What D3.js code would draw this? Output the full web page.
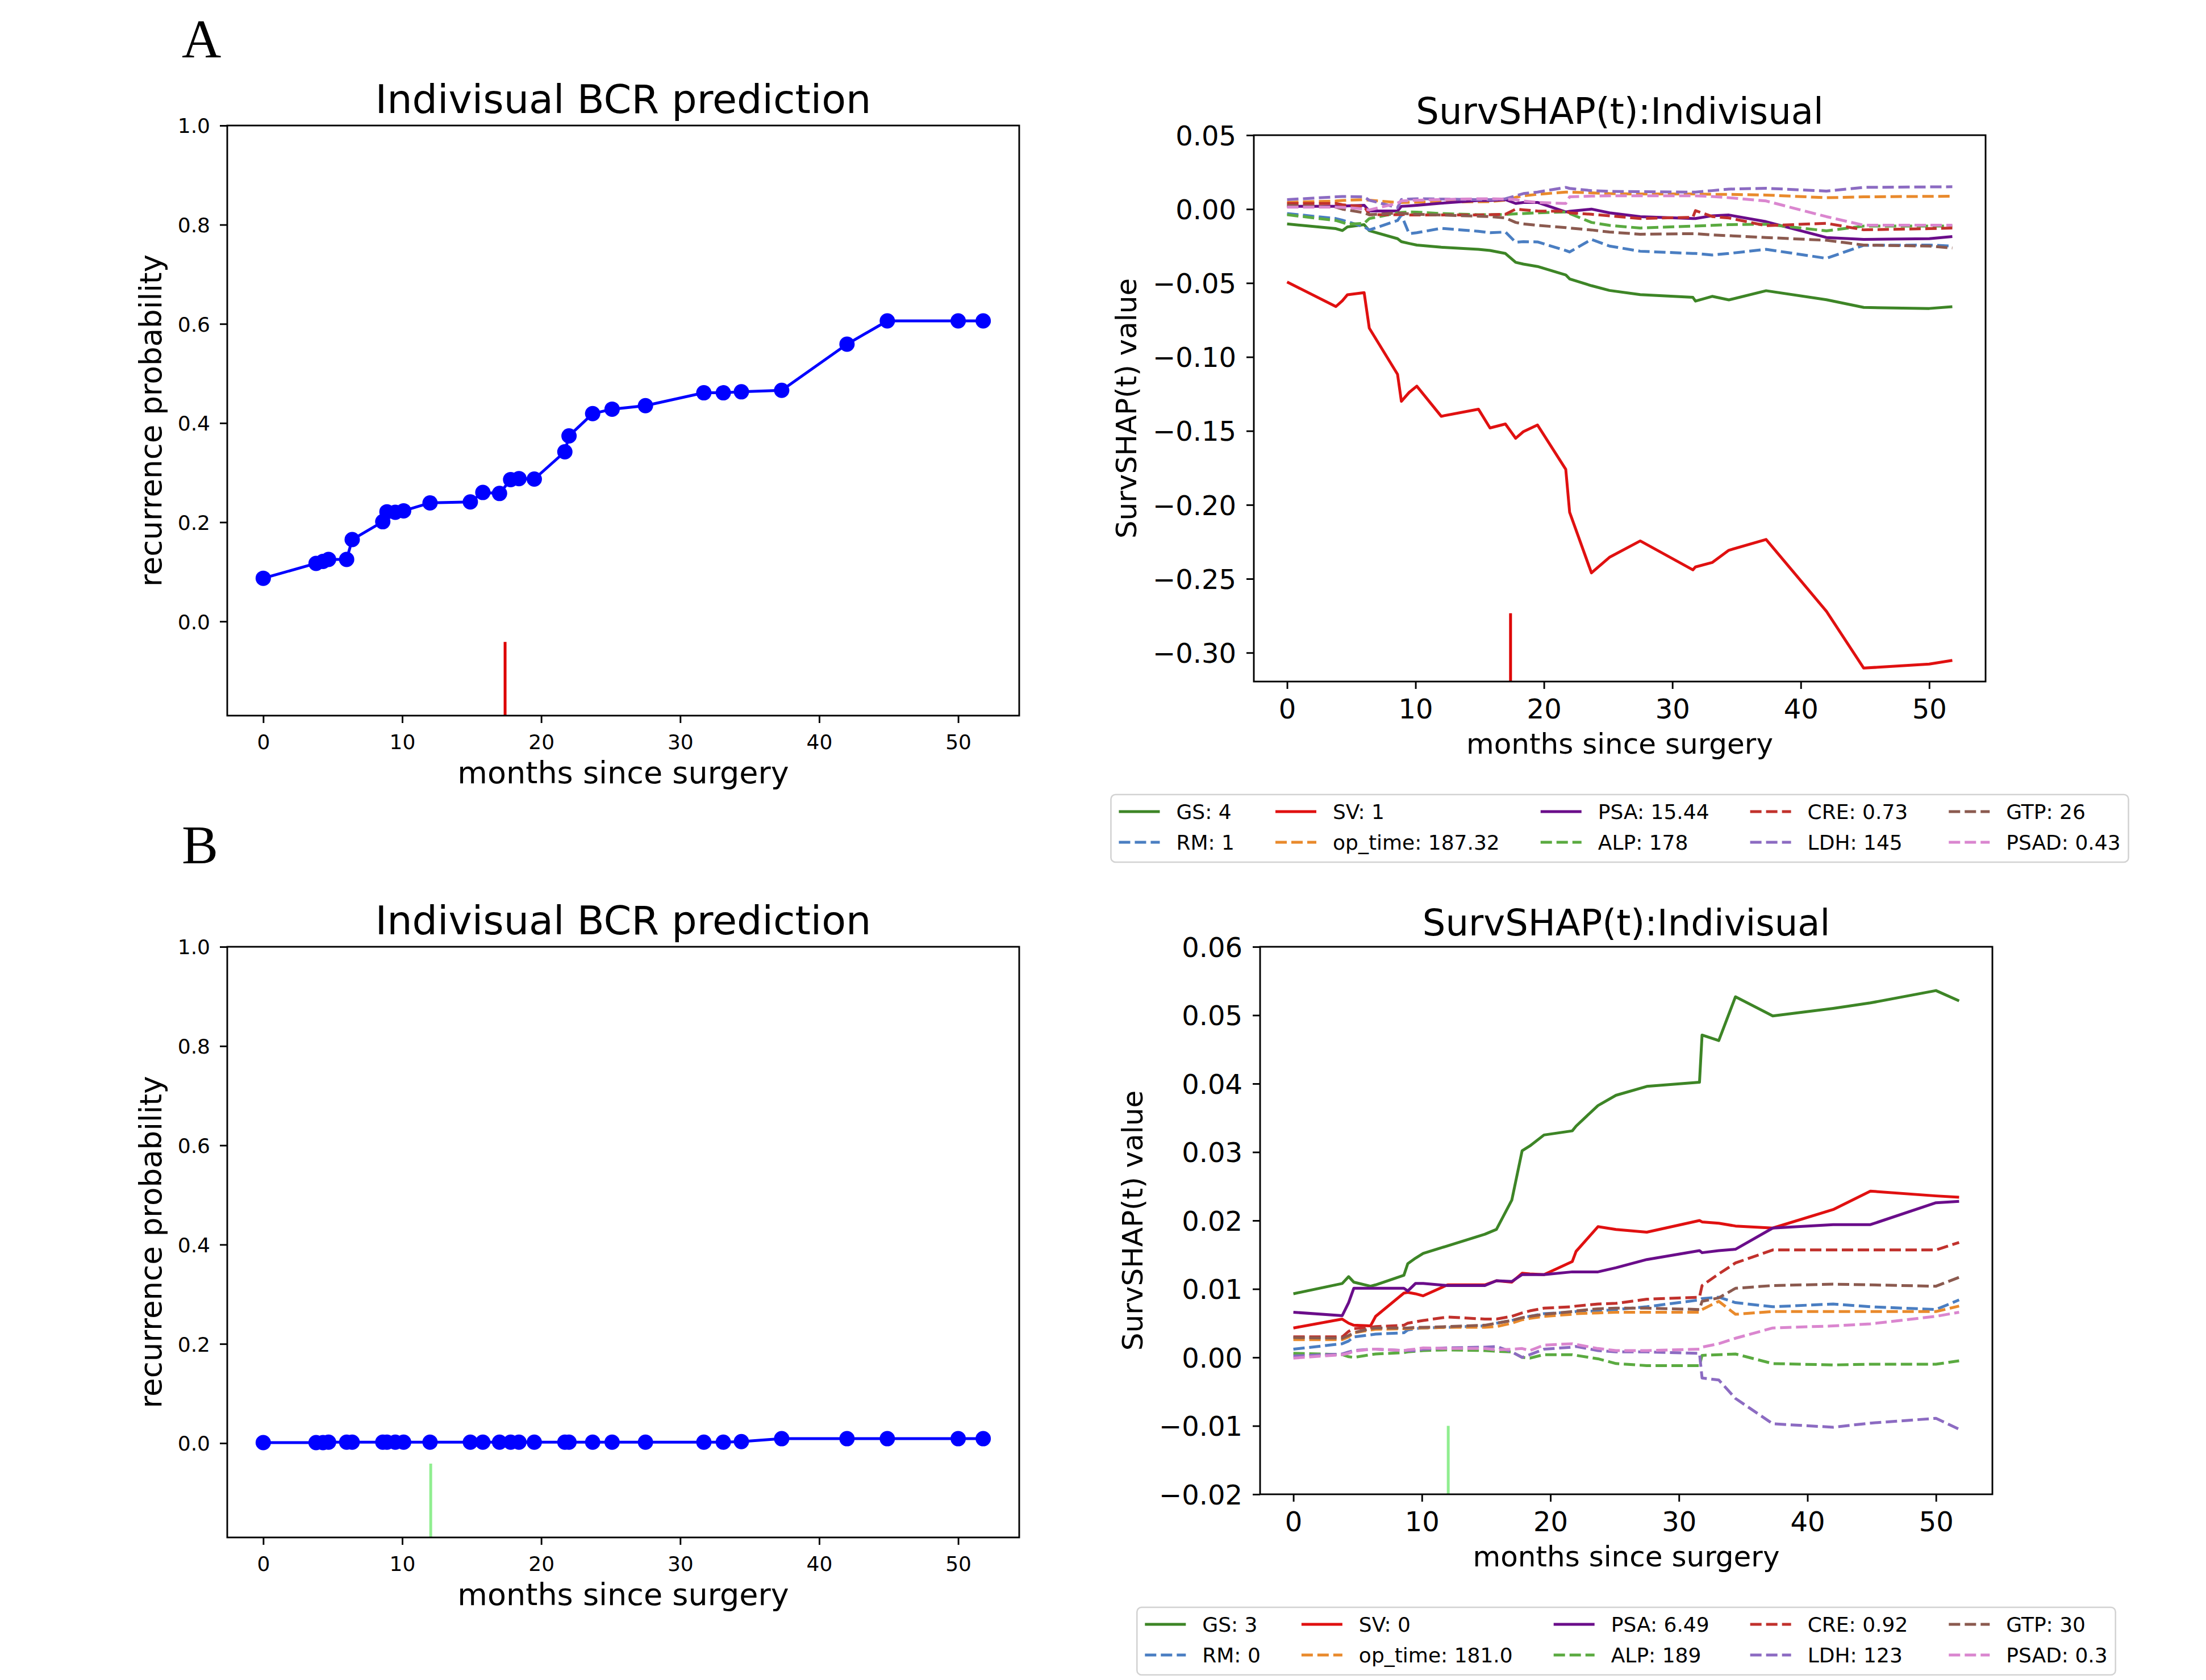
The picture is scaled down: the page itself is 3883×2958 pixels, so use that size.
<!DOCTYPE html>
<html>
<head>
<meta charset="utf-8">
<script src="https://cdn.jsdelivr.net/npm/d3@7"></script>
<style>
	body { margin: 0; background: #fff; }
</style>
</head>
<body>
<script>
// ---- data ----
var survTimes = [0, 3.8, 4.3, 4.7, 6.0, 6.4, 8.6, 8.9, 9.5, 10.1, 12.0, 14.9, 15.8, 17.0, 17.8, 18.4, 19.5, 21.7, 22.0, 23.7, 25.1, 27.5, 31.7, 33.1, 34.4, 37.3, 42.0, 44.9, 50.0, 51.8];
var bcrProbA = [0.087, 0.117, 0.121, 0.125, 0.125, 0.165, 0.201, 0.221, 0.220, 0.223, 0.239, 0.241, 0.260, 0.258, 0.286, 0.288, 0.287, 0.342, 0.374, 0.419, 0.428, 0.435, 0.461, 0.461, 0.463, 0.466, 0.559, 0.606, 0.606, 0.606];
var bcrProbB = [0.001, 0.001, 0.001, 0.002, 0.002, 0.002, 0.002, 0.002, 0.002, 0.002, 0.002, 0.002, 0.002, 0.002, 0.002, 0.002, 0.002, 0.002, 0.002, 0.002, 0.002, 0.002, 0.002, 0.002, 0.003, 0.009, 0.009, 0.009, 0.009, 0.009];
var markTimeA = 17.4;
var markTimeB = 12.05;

var shapTimes = [0, 3.8, 4.3, 4.7, 6.0, 6.4, 8.6, 8.9, 9.5, 10.1, 12.0, 14.9, 15.8, 17.0, 17.8, 18.4, 19.5, 21.7, 22.0, 23.7, 25.1, 27.5, 31.6, 31.8, 33.1, 34.4, 37.3, 42.0, 44.9, 50.0, 51.8];

// legend order (column major, 5 columns)
var featureNames = ["GS", "RM", "SV", "op_time", "PSA", "ALP", "CRE", "LDH", "GTP", "PSAD"];
var featureValuesA = ["4", "1", "1", "187.32", "15.44", "178", "0.73", "145", "26", "0.43"];
var featureValuesB = ["3", "0", "0", "181.0", "6.49", "189", "0.92", "123", "30", "0.3"];

var gsA = [-0.0100, -0.0132, -0.0145, -0.0120, -0.0105, -0.0146, -0.0200, -0.0220, -0.0232, -0.0243, -0.0258, -0.0272, -0.0280, -0.0300, -0.0360, -0.0372, -0.0388, -0.0445, -0.0472, -0.0518, -0.0550, -0.0578, -0.0597, -0.0622, -0.0590, -0.0614, -0.0552, -0.0613, -0.0665, -0.0672, -0.0660];
var rmA = [-0.0030, -0.0064, -0.0075, -0.0085, -0.0120, -0.0141, -0.0077, -0.0040, -0.0166, -0.0160, -0.0130, -0.0150, -0.0160, -0.0155, -0.0224, -0.0220, -0.0222, -0.0280, -0.0290, -0.0205, -0.0250, -0.0285, -0.0300, -0.0300, -0.0310, -0.0300, -0.0272, -0.0333, -0.0245, -0.0243, -0.0250];
var svA = [-0.0493, -0.0659, -0.0620, -0.0579, -0.0565, -0.0805, -0.1117, -0.1300, -0.1240, -0.1197, -0.1401, -0.1353, -0.1480, -0.1453, -0.1550, -0.1505, -0.1460, -0.1760, -0.2050, -0.2460, -0.2355, -0.2244, -0.2440, -0.2420, -0.2390, -0.2307, -0.2234, -0.2720, -0.3104, -0.3077, -0.3052];
var opA = [0.0045, 0.0055, 0.0058, 0.0060, 0.0064, 0.0060, 0.0045, 0.0045, 0.0046, 0.0047, 0.0048, 0.0050, 0.0051, 0.0060, 0.0080, 0.0090, 0.0100, 0.0115, 0.0115, 0.0110, 0.0105, 0.0102, 0.0102, 0.0102, 0.0100, 0.0100, 0.0095, 0.0077, 0.0083, 0.0086, 0.0087];
var psaA = [0.0019, 0.0019, 0.0020, 0.0022, 0.0026, -0.0013, -0.0013, 0.0019, 0.0022, 0.0026, 0.0040, 0.0058, 0.0058, 0.0064, 0.0038, 0.0045, 0.0045, -0.0019, -0.0015, 0.0000, -0.0025, -0.0051, -0.0064, -0.0064, -0.0045, -0.0040, -0.0085, -0.0192, -0.0205, -0.0200, -0.0186];
var alpA = [-0.0038, -0.0077, -0.0090, -0.0102, -0.0096, -0.0064, -0.0026, -0.0022, -0.0019, -0.0020, -0.0030, -0.0038, -0.0038, -0.0036, -0.0032, -0.0030, -0.0025, -0.0019, -0.0030, -0.0090, -0.0110, -0.0128, -0.0115, -0.0115, -0.0110, -0.0105, -0.0102, -0.0147, -0.0115, -0.0115, -0.0115];
var creA = [0.0038, 0.0038, 0.0030, 0.0025, 0.0020, -0.0038, -0.0038, -0.0035, -0.0040, -0.0040, -0.0040, -0.0040, -0.0038, -0.0035, 0.0000, -0.0005, -0.0013, -0.0015, -0.0025, -0.0035, -0.0045, -0.0064, -0.0055, -0.0010, -0.0050, -0.0060, -0.0112, -0.0096, -0.0140, -0.0132, -0.0128];
var ldhA = [0.0064, 0.0083, 0.0085, 0.0085, 0.0083, 0.0060, 0.0010, 0.0065, 0.0068, 0.0070, 0.0068, 0.0064, 0.0064, 0.0070, 0.0090, 0.0105, 0.0115, 0.0147, 0.0140, 0.0125, 0.0120, 0.0118, 0.0115, 0.0115, 0.0125, 0.0135, 0.0141, 0.0122, 0.0147, 0.0150, 0.0151];
var gtpA = [0.0026, 0.0013, 0.0000, -0.0006, -0.0025, -0.0038, -0.0026, -0.0028, -0.0032, -0.0035, -0.0040, -0.0048, -0.0051, -0.0060, -0.0090, -0.0100, -0.0110, -0.0125, -0.0128, -0.0141, -0.0155, -0.0170, -0.0166, -0.0166, -0.0175, -0.0180, -0.0192, -0.0211, -0.0243, -0.0250, -0.0263];
var psadA = [0.0013, 0.0013, 0.0012, 0.0010, 0.0000, -0.0006, 0.0040, 0.0055, 0.0058, 0.0060, 0.0065, 0.0070, 0.0070, 0.0068, 0.0064, 0.0055, 0.0045, 0.0038, 0.0083, 0.0088, 0.0090, 0.0090, 0.0090, 0.0090, 0.0085, 0.0077, 0.0055, -0.0051, -0.0109, -0.0109, -0.0109];

var gsB = [0.0093, 0.0108, 0.0118, 0.0110, 0.0104, 0.0106, 0.0120, 0.0137, 0.0145, 0.0152, 0.0163, 0.0180, 0.0187, 0.0230, 0.0302, 0.0309, 0.0325, 0.0331, 0.0338, 0.0368, 0.0383, 0.0396, 0.0402, 0.0471, 0.0463, 0.0527, 0.0499, 0.0510, 0.0518, 0.0536, 0.0521];
var rmB = [0.0012, 0.0020, 0.0024, 0.0030, 0.0033, 0.0034, 0.0036, 0.0040, 0.0042, 0.0043, 0.0044, 0.0046, 0.0050, 0.0054, 0.0058, 0.0060, 0.0064, 0.0066, 0.0067, 0.0068, 0.0070, 0.0074, 0.0084, 0.0086, 0.0088, 0.0080, 0.0074, 0.0078, 0.0074, 0.0070, 0.0084];
var svB = [0.0043, 0.0056, 0.0050, 0.0047, 0.0046, 0.0060, 0.0094, 0.0095, 0.0093, 0.0090, 0.0106, 0.0106, 0.0112, 0.0110, 0.0123, 0.0122, 0.0121, 0.0140, 0.0155, 0.0191, 0.0187, 0.0183, 0.0200, 0.0198, 0.0196, 0.0192, 0.0189, 0.0216, 0.0243, 0.0236, 0.0234];
var opB = [0.0026, 0.0026, 0.0030, 0.0036, 0.0040, 0.0041, 0.0042, 0.0042, 0.0043, 0.0043, 0.0044, 0.0044, 0.0045, 0.0050, 0.0055, 0.0057, 0.0060, 0.0063, 0.0064, 0.0065, 0.0066, 0.0066, 0.0066, 0.0070, 0.0082, 0.0063, 0.0067, 0.0067, 0.0067, 0.0067, 0.0075];
var psaB = [0.0066, 0.0061, 0.0080, 0.0101, 0.0101, 0.0101, 0.0101, 0.0097, 0.0108, 0.0108, 0.0105, 0.0105, 0.0112, 0.0111, 0.0121, 0.0121, 0.0121, 0.0125, 0.0125, 0.0125, 0.0131, 0.0143, 0.0156, 0.0153, 0.0156, 0.0158, 0.0189, 0.0194, 0.0194, 0.0226, 0.0228];
var alpB = [0.0006, 0.0004, 0.0001, 0.0000, 0.0004, 0.0005, 0.0007, 0.0008, 0.0009, 0.0010, 0.0011, 0.0010, 0.0009, 0.0008, 0.0000, -0.0001, 0.0004, 0.0004, 0.0003, -0.0002, -0.0009, -0.0012, -0.0012, 0.0003, 0.0004, 0.0005, -0.0009, -0.0011, -0.0010, -0.0010, -0.0005];
var creB = [0.0030, 0.0030, 0.0038, 0.0042, 0.0044, 0.0045, 0.0047, 0.0050, 0.0052, 0.0054, 0.0059, 0.0056, 0.0056, 0.0060, 0.0065, 0.0068, 0.0072, 0.0074, 0.0075, 0.0078, 0.0079, 0.0085, 0.0088, 0.0105, 0.0122, 0.0138, 0.0157, 0.0157, 0.0157, 0.0157, 0.0168];
var ldhB = [0.0002, 0.0005, 0.0008, 0.0010, 0.0012, 0.0012, 0.0010, 0.0010, 0.0010, 0.0012, 0.0014, 0.0015, 0.0016, 0.0008, 0.0000, 0.0004, 0.0012, 0.0015, 0.0016, 0.0010, 0.0008, 0.0008, 0.0006, -0.0030, -0.0033, -0.0060, -0.0097, -0.0102, -0.0096, -0.0089, -0.0105];
var gtpB = [0.0029, 0.0028, 0.0032, 0.0036, 0.0042, 0.0043, 0.0043, 0.0043, 0.0044, 0.0044, 0.0045, 0.0047, 0.0050, 0.0054, 0.0058, 0.0060, 0.0063, 0.0067, 0.0068, 0.0071, 0.0072, 0.0072, 0.0070, 0.0082, 0.0087, 0.0101, 0.0105, 0.0107, 0.0106, 0.0104, 0.0117];
var psadB = [-0.0001, 0.0004, 0.0006, 0.0009, 0.0012, 0.0012, 0.0010, 0.0011, 0.0012, 0.0014, 0.0013, 0.0013, 0.0011, 0.0012, 0.0013, 0.0010, 0.0018, 0.0020, 0.0019, 0.0013, 0.0010, 0.0010, 0.0012, 0.0015, 0.0020, 0.0028, 0.0043, 0.0046, 0.0049, 0.0060, 0.0066];

var monthTicks = [0, 10, 20, 30, 40, 50];
var probTicks = [0.0, 0.2, 0.4, 0.6, 0.8, 1.0];
var shapTicksA = [0.05, 0.00, -0.05, -0.10, -0.15, -0.20, -0.25, -0.30];
var shapTicksB = [0.06, 0.05, 0.04, 0.03, 0.02, 0.01, 0.00, -0.01, -0.02];

// ---- styling ----
var FONT = "DejaVu Sans";
var SPINE_W = 2.9;
var TICK_LEN = 13;
var X_DOMAIN = [-2.59, 54.39];
var MARK_FRAC = 0.125;

var featureStyle = {
	"GS":      { color: "#3d8526", dash: null },
	"SV":      { color: "#e01010", dash: null },
	"PSA":     { color: "#6a0d8a", dash: null },
	"CRE":     { color: "#c1312c", dash: "20,8" },
	"GTP":     { color: "#8b5a4f", dash: "20,8" },
	"RM":      { color: "#4a7ec2", dash: "20,8" },
	"op_time": { color: "#e98a2c", dash: "20,8" },
	"ALP":     { color: "#5aaa40", dash: "20,8" },
	"LDH":     { color: "#8c6bc2", dash: "20,8" },
	"PSAD":    { color: "#da86cf", dash: "20,8" }
};

var svg = d3.select("body").append("svg")
	.attr("width", 3883)
	.attr("height", 2958)
	.style("background", "#fff");

function styleAxis(g, fontSize, dy) {
	g.select(".domain").remove();
	g.selectAll(".tick line").attr("stroke", "#000").attr("stroke-width", SPINE_W);
	g.selectAll(".tick text")
		.attr("font-family", FONT)
		.attr("font-size", fontSize)
		.attr("fill", "#000");
	if (dy) g.selectAll(".tick text").attr("dy", dy);
}

function fmtShap(d) {
	var s = Math.abs(d).toFixed(2);
	return (d < -1e-9 ? "\u2212" : "") + s;
}

function drawFrame(box) {
	svg.append("rect")
		.attr("x", box.left).attr("y", box.top)
		.attr("width", box.w).attr("height", box.h)
		.attr("fill", "none")
		.attr("stroke", "#000")
		.attr("stroke-width", SPINE_W);
}

function drawMark(x, box, t, color) {
	svg.append("line")
		.attr("x1", x(t)).attr("x2", x(t))
		.attr("y1", box.top + box.h)
		.attr("y2", box.top + box.h * (1 - MARK_FRAC))
		.attr("stroke", color)
		.attr("stroke-width", 5);
}

function drawProbPanel(box, probs, markT, markColor) {
	var x = d3.scaleLinear().domain(X_DOMAIN).range([box.left, box.left + box.w]);
	var y = d3.scaleLinear().domain([-0.19, 1.0]).range([box.top + box.h, box.top]);

	var xa = svg.append("g")
		.attr("transform", "translate(0," + (box.top + box.h) + ")")
		.call(d3.axisBottom(x).tickValues(monthTicks).tickSize(TICK_LEN).tickPadding(20).tickFormat(d3.format("d")));
	styleAxis(xa, 36);

	var ya = svg.append("g")
		.attr("transform", "translate(" + box.left + ",0)")
		.call(d3.axisLeft(y).tickValues(probTicks).tickSize(TICK_LEN).tickPadding(17).tickFormat(d3.format(".1f")));
	styleAxis(ya, 36, "0.36em");

	var pts = survTimes.map(function (t, i) { return [t, probs[i]]; });

	svg.append("path")
		.datum(pts)
		.attr("fill", "none")
		.attr("stroke", "#0000ff")
		.attr("stroke-width", 5)
		.attr("d", d3.line().x(function (d) { return x(d[0]); }).y(function (d) { return y(d[1]); }));

	svg.append("g").selectAll("circle")
		.data(pts)
		.enter().append("circle")
		.attr("cx", function (d) { return x(d[0]); })
		.attr("cy", function (d) { return y(d[1]); })
		.attr("r", 13.5)
		.attr("fill", "#0000ff");

	drawMark(x, box, markT, markColor);
	drawFrame(box);

	svg.append("text")
		.attr("x", box.left + box.w / 2).attr("y", box.top - 22)
		.attr("text-anchor", "middle")
		.attr("font-family", FONT).attr("font-size", 70)
		.text("Indivisual BCR prediction");

	svg.append("text")
		.attr("x", box.left + box.w / 2).attr("y", box.top + box.h + 119)
		.attr("text-anchor", "middle")
		.attr("font-family", FONT).attr("font-size", 54)
		.text("months since surgery");

	svg.append("text")
		.attr("transform", "translate(" + (box.left - 116) + "," + (box.top + box.h / 2) + ") rotate(-90)")
		.attr("text-anchor", "middle")
		.attr("font-family", FONT).attr("font-size", 53)
		.text("recurrence probability");
}

function drawLegend(cx, top, values) {
	var fs = 36, handle = 72, handlePad = 29, colSpace = 72, border = 14;
	var g = svg.append("g");
	var labels = featureNames.map(function (n, i) { return n + ": " + values[i]; });

	var widths = labels.map(function (l) {
		var t = g.append("text").attr("font-family", FONT).attr("font-size", fs).text(l);
		var w = t.node().getComputedTextLength();
		t.remove();
		return w;
	});

	var ncol = 5, colStart = [], total = border;
	for (var c = 0; c < ncol; c++) {
		colStart.push(total);
		var cw = Math.max(widths[2 * c], widths[2 * c + 1]);
		total += handle + handlePad + cw + (c < ncol - 1 ? colSpace : 0);
	}
	total += border;
	var left = cx - total / 2;

	g.append("rect")
		.attr("x", left).attr("y", top)
		.attr("width", total).attr("height", 119)
		.attr("rx", 8)
		.attr("fill", "#fff").attr("fill-opacity", 0.8)
		.attr("stroke", "#d2d2d2").attr("stroke-width", 2.5);

	labels.forEach(function (l, i) {
		var st = featureStyle[featureNames[i]];
		var x0 = left + colStart[Math.floor(i / 2)];
		var yy = top + 30 + (i % 2) * 54;
		g.append("line")
			.attr("x1", x0).attr("x2", x0 + handle)
			.attr("y1", yy).attr("y2", yy)
			.attr("stroke", st.color).attr("stroke-width", 5)
			.attr("stroke-dasharray", st.dash);
		g.append("text")
			.attr("x", x0 + handle + handlePad).attr("y", yy)
			.attr("dy", "0.36em")
			.attr("font-family", FONT).attr("font-size", fs)
			.text(l);
	});
}

function drawShapPanel(box, yDomain, yTicks, series, values, markT, markColor) {
	var x = d3.scaleLinear().domain(X_DOMAIN).range([box.left, box.left + box.w]);
	var y = d3.scaleLinear().domain(yDomain).range([box.top + box.h, box.top]);

	var xa = svg.append("g")
		.attr("transform", "translate(0," + (box.top + box.h) + ")")
		.call(d3.axisBottom(x).tickValues(monthTicks).tickSize(TICK_LEN).tickPadding(18).tickFormat(d3.format("d")));
	styleAxis(xa, 48);

	var ya = svg.append("g")
		.attr("transform", "translate(" + box.left + ",0)")
		.call(d3.axisLeft(y).tickValues(yTicks).tickSize(TICK_LEN).tickPadding(18).tickFormat(fmtShap));
	styleAxis(ya, 48, "0.36em");

	var line = d3.line()
		.x(function (d, i) { return x(shapTimes[i]); })
		.y(function (d) { return y(d); });

	featureNames.forEach(function (name) {
		var st = featureStyle[name];
		svg.append("path")
			.datum(series[name])
			.attr("fill", "none")
			.attr("stroke", st.color)
			.attr("stroke-width", 5)
			.attr("stroke-linejoin", "round")
			.attr("stroke-dasharray", st.dash)
			.attr("d", line);
	});

	drawMark(x, box, markT, markColor);
	drawFrame(box);

	svg.append("text")
		.attr("x", box.left + box.w / 2).attr("y", box.top - 20)
		.attr("text-anchor", "middle")
		.attr("font-family", FONT).attr("font-size", 64)
		.text("SurvSHAP(t):Indivisual");

	svg.append("text")
		.attr("x", box.left + box.w / 2).attr("y", box.top + box.h + 127)
		.attr("text-anchor", "middle")
		.attr("font-family", FONT).attr("font-size", 50)
		.text("months since surgery");

	svg.append("text")
		.attr("transform", "translate(" + (box.left - 207) + "," + (box.top + box.h / 2) + ") rotate(-90)")
		.attr("text-anchor", "middle")
		.attr("font-family", FONT).attr("font-size", 50)
		.text("SurvSHAP(t) value");

	drawLegend(box.left + box.w / 2, box.top + box.h + 199, values);
}

// panel letters
svg.append("text").attr("x", 320).attr("y", 101)
	.attr("font-family", "Liberation Serif").attr("font-size", 96).text("A");
svg.append("text").attr("x", 320).attr("y", 1520)
	.attr("font-family", "Liberation Serif").attr("font-size", 96).text("B");

drawProbPanel({ left: 400, top: 221, w: 1394, h: 1039 }, bcrProbA, markTimeA, "#dd0000");
drawProbPanel({ left: 400, top: 1667, w: 1394, h: 1040 }, bcrProbB, markTimeB, "#90ee90");

drawShapPanel({ left: 2207, top: 238, w: 1288, h: 962 }, [-0.3195, 0.05], shapTicksA,
	{ GS: gsA, RM: rmA, SV: svA, op_time: opA, PSA: psaA, ALP: alpA, CRE: creA, LDH: ldhA, GTP: gtpA, PSAD: psadA },
	featureValuesA, markTimeA, "#dd0000");

drawShapPanel({ left: 2218, top: 1667, w: 1289, h: 964 }, [-0.02, 0.06], shapTicksB,
	{ GS: gsB, RM: rmB, SV: svB, op_time: opB, PSA: psaB, ALP: alpB, CRE: creB, LDH: ldhB, GTP: gtpB, PSAD: psadB },
	featureValuesB, markTimeB, "#90ee90");
</script>
</body>
</html>
